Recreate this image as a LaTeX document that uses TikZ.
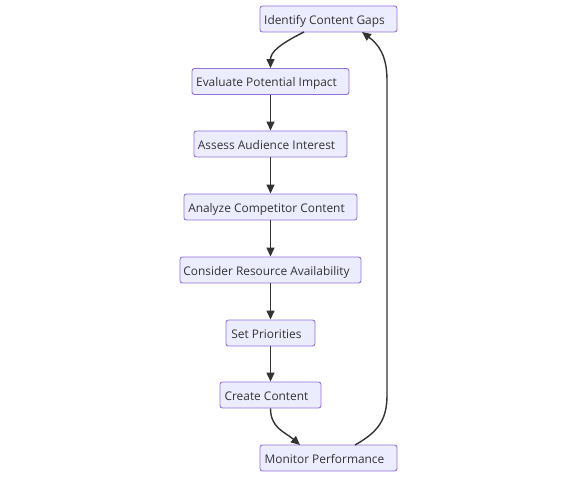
\documentclass[tikz,border=0pt]{standalone}
\usepackage{fontspec}
\setmainfont{Open Sans}
\usetikzlibrary{arrows.meta}
\definecolor{boxfill}{HTML}{ECECFF}
\definecolor{boxline}{HTML}{9370DB}
\definecolor{edge}{HTML}{333333}
\newcommand{\padr}{\hspace*{8pt}}
\tikzset{
  stepbox/.style={draw=boxline, fill=boxfill, rounded corners=2.5pt, line width=0.9pt,
    minimum height=26pt, inner sep=0pt, text height=10.4pt, text depth=0pt,
    font=\fontsize{11.9}{13}\selectfont, text=edge},
  link/.style={draw=edge, line width=1.4pt, -{Triangle[length=9pt,width=8pt]}}
}
\begin{document}
\begin{tikzpicture}[x=1pt,y=-1pt]
\useasboundingbox (0,0) rectangle (578,478);
\node[stepbox, minimum width=137pt] (a) at (328.5,19) {Identify Content Gaps\padr};
\node[stepbox, minimum width=157pt] (b) at (270.5,81.5) {Evaluate Potential Impact\padr};
\node[stepbox, minimum width=153pt] (c) at (270.5,144) {Assess Audience Interest\padr};
\node[stepbox, minimum width=173pt] (d) at (270.5,207) {Analyze Competitor Content\padr};
\node[stepbox, minimum width=181pt] (e) at (270.5,270) {Consider Resource Availability\padr};
\node[stepbox, minimum width=89pt] (f) at (270.5,333) {Set Priorities\padr};
\node[stepbox, minimum width=101pt] (g) at (270.5,395) {Create Content\padr};
\node[stepbox, minimum width=137pt] (h) at (328.5,458) {Monitor Performance\padr};
\coordinate (ab) at (304,32);
\coordinate (gh) at (300,445);
\coordinate (ha) at (355,445);
\coordinate (ah) at (362,32);
\draw[link] (ab) .. controls (280,44) and (270.5,52) .. (b.north);
\draw[link] (b) -- (c);
\draw[link] (c) -- (d);
\draw[link] (d) -- (e);
\draw[link] (e) -- (f);
\draw[link] (f) -- (g);
\draw[link] (g.south) .. controls (270.5,428) and (285,432) .. (gh);
\draw[link] (ha) .. controls (378,432) and (387,420) .. (387,395) -- (387,80) .. controls (387,55) and (378,44) .. (ah);
\end{tikzpicture}
\end{document}
